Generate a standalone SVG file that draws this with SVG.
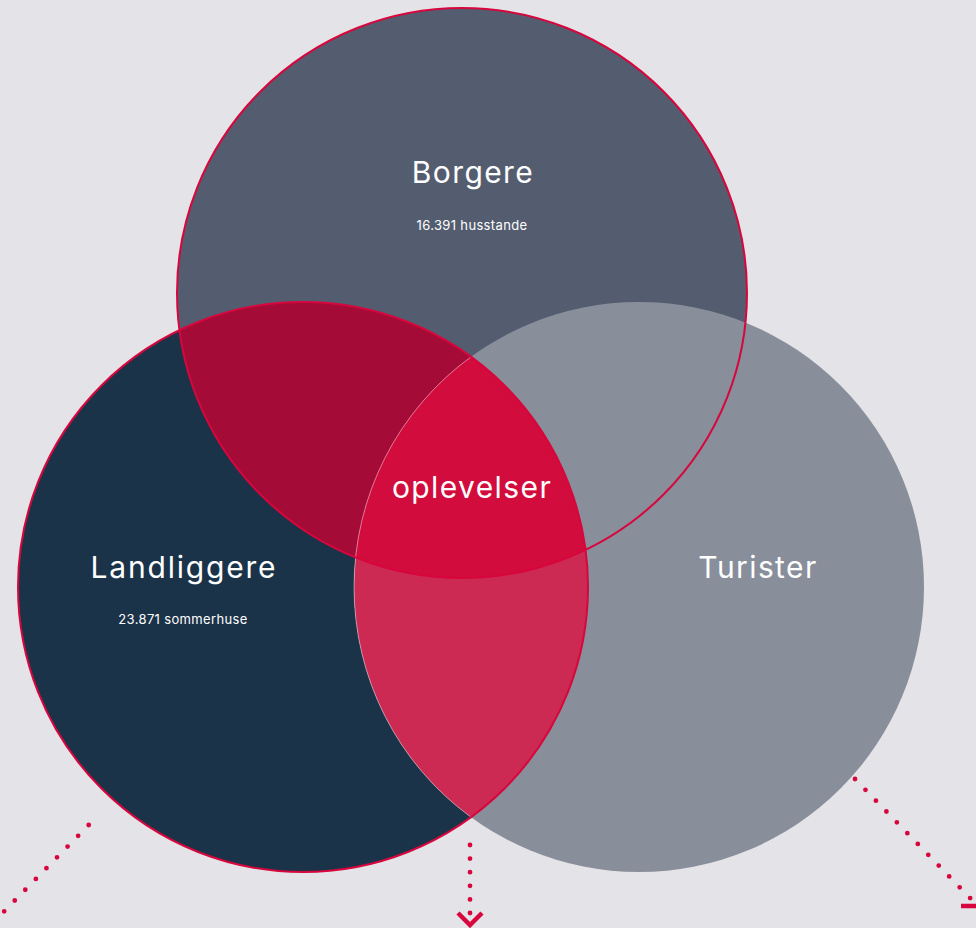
<svg xmlns="http://www.w3.org/2000/svg" width="976" height="928" viewBox="0 0 976 928">
<defs>
<style>
.lbl{font-family:Inter,"Noto Sans","Liberation Sans",sans-serif;fill:#ffffff;text-anchor:middle}
.big{font-size:30px;letter-spacing:1.4px}
.wide{letter-spacing:1.8px}
.small{font-size:13px;letter-spacing:0.35px}
.ring{fill:none;stroke:#D7063D;stroke-width:2}
.dots{fill:none;stroke:#D7063D;stroke-width:4.8;stroke-linecap:round}
.head{fill:none;stroke:#D7063D;stroke-width:4.5}
</style>
</defs>
<rect width="976" height="928" fill="#E4E3E8"/>
<g id="node-borgere">
<circle cx="462" cy="293" r="285" fill="#545D70"/>
</g>
<g id="node-landliggere">
<circle cx="303" cy="587" r="285" fill="#1B3349"/>
</g>
<g id="node-turister">
<circle cx="639" cy="587" r="285" fill="#898E9B"/>
</g>
<g id="overlap-borgere-landliggere">
<path d="M179.4,330.2 A285,285 0 0 1 585.6,549.8 A285,285 0 0 1 179.4,330.2 Z" fill="#A40B37"/>
</g>
<g id="overlap-landliggere-turister">
<path d="M471,356.8 A285,285 0 0 1 471,817.2 A285,285 0 0 1 471,356.8 Z" fill="#CD2A53"/>
</g>
<g id="node-oplevelser">
<path d="M471,356.8 A285,285 0 0 1 585.6,549.8 A285,285 0 0 1 355.55,557.38 A285,285 0 0 1 471,356.8 Z" fill="#D20C3C"/>
</g>
<g id="outlines">
<path d="M471,356.8 A285,285 0 0 0 471,817.2" fill="none" stroke="#ffffff" stroke-opacity="0.45" stroke-width="1"/>
<circle class="ring" cx="462" cy="293" r="285"/>
<circle class="ring" cx="303" cy="587" r="285"/>
</g>
<g id="labels">
<text class="lbl big" x="473" y="183">Borgere</text>
<text class="lbl small" x="472" y="230">16.391 husstande</text>
<text class="lbl big wide" x="184" y="578">Landliggere</text>
<text class="lbl small" x="183" y="624">23.871 sommerhuse</text>
<text class="lbl big" x="472" y="498">oplevelser</text>
<text class="lbl big" x="758" y="578">Turister</text>
</g>
<g id="connectors">
<line class="dots" x1="88.7" y1="825" x2="-20" y2="936" stroke-dasharray="0 15.1"/>
<line class="dots" x1="470" y1="845" x2="470" y2="914" stroke-dasharray="0 13.6"/>
<path class="head" d="M458,913 L470,925 L482,913"/>
<line class="dots" x1="855" y1="779" x2="971" y2="899" stroke-dasharray="0 15.06"/>
<path class="head" d="M961,906 L978.5,906 L978.5,889"/>
</g>
</svg>
